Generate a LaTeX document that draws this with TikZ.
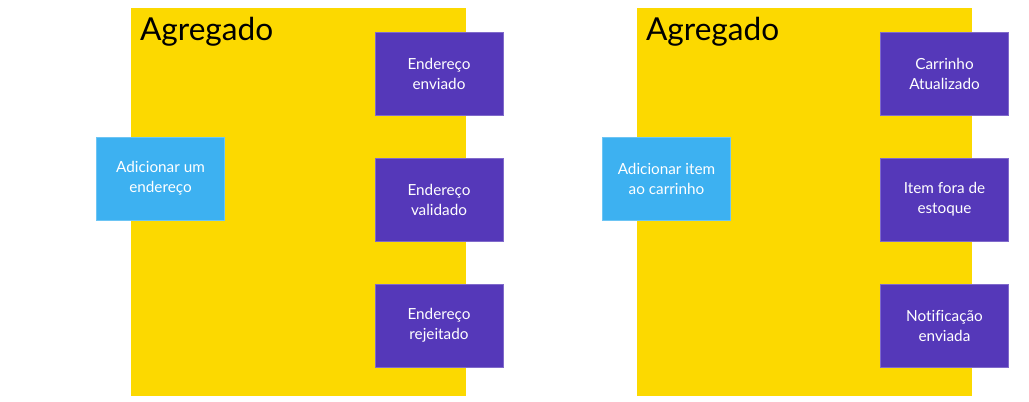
\documentclass[tikz,border=0pt]{standalone}
\usepackage{fontspec}
\setmainfont[Ligatures=NoCommon]{Lato}
\definecolor{amarelo}{HTML}{FCD900}
\definecolor{roxo}{HTML}{5538B9}
\definecolor{azul}{HTML}{3DB1F1}
\begin{document}
\begin{tikzpicture}[x=0.02cm,y=-0.02cm,
    agregado/.style={fill=amarelo,minimum width=6.7cm,minimum height=7.76cm,inner sep=0},
    titulo/.style={font=\fontsize{18}{20}\selectfont,inner sep=0},
    comando/.style={fill=azul,draw=azul!75!white,text=white,minimum width=2.56cm,
      minimum height=1.66cm,align=center,font=\fontsize{8.7}{11.4}\selectfont},
    evento/.style={comando,fill=roxo,draw=roxo!75!white}]
    \useasboundingbox (0,0) rectangle (1029,402);
    % agregado do endereco
    \node [agregado] (aggA) at (298.5,202) {};
    \node [titulo,anchor=base west] (tituloA) at ([xshift=0.18cm,yshift=-0.66cm]aggA.north west) {Agregado};
    \node [comando] (cmdA) at (160.5,178.5) {Adicionar um\\endereço};
    \foreach \nome/\y/\txt in {evA1/73.5/{Endereço\\enviado},evA2/199.5/{Endereço\\validado},evA3/325.5/{Endereço\\rejeitado}}{
      \node [evento] (\nome) at (439,\y) {\txt};
    }
    % agregado do carrinho
    \node [agregado] (aggB) at (804.5,202) {};
    \node [titulo,anchor=base west] (tituloB) at ([xshift=0.18cm,yshift=-0.66cm]aggB.north west) {Agregado};
    \node [comando] (cmdB) at (666.5,178.5) {Adicionar item\\ao carrinho};
    \foreach \nome/\y/\txt in {evB1/73.5/{Carrinho\\Atualizado},evB2/199.5/{Item fora de\\estoque},evB3/325.5/{Notificação\\enviada}}{
      \node [evento] (\nome) at (944.5,\y) {\txt};
    }
  \end{tikzpicture}
\end{document}
